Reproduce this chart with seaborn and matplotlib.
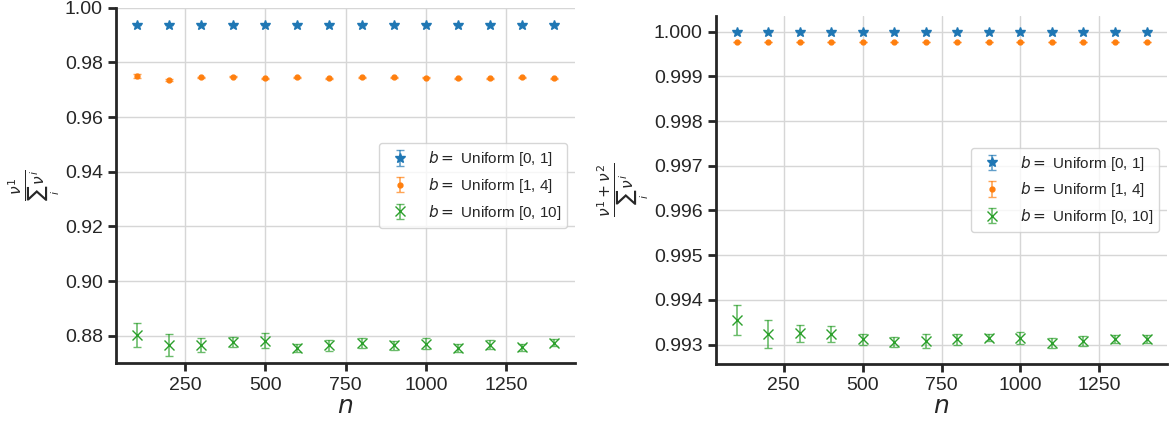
import numpy as np
import pandas as pd
import seaborn as sns
import matplotlib
matplotlib.use("Agg")
import matplotlib.pyplot as plt

# sample sizes
n = [100, 200, 300, 400, 500, 600, 700, 800, 900, 1000, 1100, 1200, 1300, 1400]
labels = ["$b=$ Uniform [0, 1]", "$b=$ Uniform [1, 4]", "$b=$ Uniform [0, 10]"]

# left panel: share of the largest value
left_u01 = [0.9937, 0.9937, 0.9937, 0.9937, 0.9937, 0.9937, 0.9937,
            0.9937, 0.9937, 0.9937, 0.9937, 0.9937, 0.9937, 0.9937]
left_u01_err = [0.0001, 0.0001, 0.0001, 0.0001, 0.0001, 0.0001, 0.0001,
                0.0001, 0.0001, 0.0001, 0.0001, 0.0001, 0.0001, 0.0001]
left_u14 = [0.9751, 0.9735, 0.9745, 0.9747, 0.9741, 0.9745, 0.9741,
            0.9745, 0.9746, 0.9743, 0.9742, 0.9742, 0.9745, 0.9742]
left_u14_err = [0.0007, 0.0005, 0.0002, 0.0002, 0.0002, 0.0002, 0.0002,
                0.0002, 0.0002, 0.0002, 0.0002, 0.0002, 0.0002, 0.0002]
left_u010 = [0.8803, 0.8766, 0.8767, 0.8778, 0.8783, 0.8756, 0.8766,
             0.8774, 0.8766, 0.8772, 0.8756, 0.8768, 0.8759, 0.8776]
left_u010_err = [0.0043, 0.0041, 0.0026, 0.0018, 0.0027, 0.0014, 0.0021,
                 0.0019, 0.0017, 0.0021, 0.0015, 0.0017, 0.0013, 0.0013]

# right panel: share of the two largest values
right_u01 = [1.0, 1.0, 1.0, 1.0, 1.0, 1.0, 1.0,
             1.0, 1.0, 1.0, 1.0, 1.0, 1.0, 1.0]
right_u01_err = [0.000003, 0.000003, 0.000003, 0.000003, 0.000003, 0.000003, 0.000003,
                 0.000003, 0.000003, 0.000003, 0.000003, 0.000003, 0.000003, 0.000003]
right_u14 = [0.99977, 0.99977, 0.99977, 0.99977, 0.99977, 0.99977, 0.99977,
             0.99977, 0.99977, 0.99977, 0.99977, 0.99977, 0.99977, 0.99977]
right_u14_err = [0.00001, 0.00001, 0.00001, 0.00001, 0.00001, 0.00001, 0.00001,
                 0.00001, 0.00001, 0.00001, 0.00001, 0.00001, 0.00001, 0.00001]
right_u010 = [0.993552, 0.993239, 0.993254, 0.993231, 0.993119, 0.993067, 0.993082,
              0.993119, 0.993157, 0.993142, 0.993030, 0.993075, 0.993119, 0.993119]
right_u010_err = [0.000336, 0.000310, 0.000190, 0.000180, 0.000120, 0.000110, 0.000153,
                  0.000127, 0.000086, 0.000130, 0.000110, 0.000116, 0.000093, 0.000090]

sns.set_theme(style="ticks", rc={
    "axes.grid": True,
    "grid.color": "#d6d6d6",
    "grid.linewidth": 1.0,
    "axes.linewidth": 2.0,
    "axes.edgecolor": "#262626",
    "xtick.major.width": 2.0,
    "ytick.major.width": 2.0,
    "xtick.major.size": 6,
    "ytick.major.size": 6,
    "xtick.labelsize": 14,
    "ytick.labelsize": 14,
    "legend.fontsize": 11,
})
plt.rcParams["font.family"] = ["Liberation Sans", "DejaVu Sans"]

colors = sns.color_palette("tab10")
markers = ["*", ".", "x"]
sizes = [7, 7, 7]

fig = plt.figure(figsize=(11.73, 4.21), dpi=100)
ax1 = fig.add_axes([0.0989, 0.137, 0.3913, 0.845])
ax2 = fig.add_axes([0.6104, 0.1354, 0.3845, 0.8273])

left = [(left_u01, left_u01_err), (left_u14, left_u14_err), (left_u010, left_u010_err)]
right = [(right_u01, right_u01_err), (right_u14, right_u14_err), (right_u010, right_u010_err)]

for ax, series in [(ax1, left), (ax2, right)]:
    for i, (vals, errs) in enumerate(series):
        eb = ax.errorbar(n, vals, yerr=errs, fmt=markers[i], color=colors[i],
                         markersize=sizes[i], capsize=3, elinewidth=1.2,
                         label=labels[i])
        for part in eb[1] + eb[2]:
            part.set_alpha(0.7)
    ax.set_xlabel("$n$", fontsize=18, labelpad=0)
    ax.legend(loc="center right", frameon=True)
    ax.ticklabel_format(axis="y", useOffset=False)
    sns.despine(ax=ax)

ax1.set_ylim(0.87, 1.0)
ax1.set_yticks([0.88, 0.90, 0.92, 0.94, 0.96, 0.98, 1.00])
ax1.set_yticklabels(["0.88", "0.90", "0.92", "0.94", "0.96", "0.98", "1.00"])
ax1.set_ylabel(r"$\frac{\nu^1}{\sum_i\,\nu^i}$", fontsize=16, labelpad=2)
ax2.set_ylabel(r"$\frac{\nu^1+\nu^2}{\sum_i\,\nu^i}$", fontsize=16, labelpad=2)

fig.savefig("out.png", dpi=100)
